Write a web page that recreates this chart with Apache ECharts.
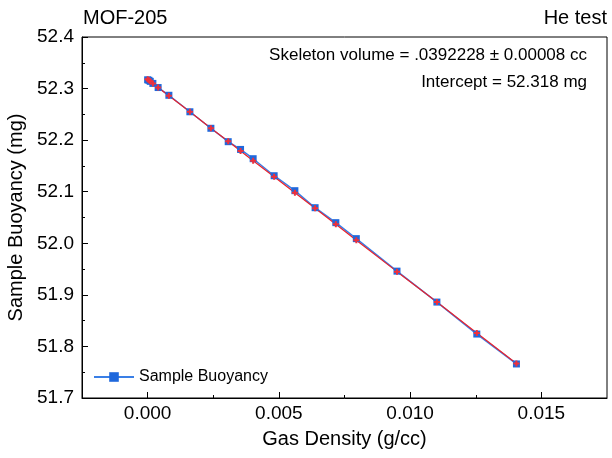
<!DOCTYPE html>
<html>
<head>
<meta charset="utf-8">
<script src="https://cdn.jsdelivr.net/npm/echarts@6/dist/echarts.min.js"></script>
<style>
html,body{margin:0;padding:0;background:#fff;}
#chart{width:612px;height:458px;}
</style>
</head>
<body>
<div id="chart"></div>
<script>
// Gas density (g/cc)
const gasDensity = [0.00000, 0.00005, 0.00010, 0.00020, 0.00040, 0.00081, 0.00161, 0.00241, 0.00307, 0.00354, 0.00402, 0.00482, 0.00561, 0.00638, 0.00717, 0.00795, 0.00950, 0.01102, 0.01254, 0.01405];
// Sample buoyancy (mg)
const sampleBuoyancy = [52.317, 52.316, 52.314, 52.310, 52.302, 52.287, 52.255, 52.223, 52.197, 52.182, 52.164, 52.131, 52.102, 52.069, 52.040, 52.009, 51.946, 51.886, 51.824, 51.766];
// Linear fit values (mg)
const fitBuoyancy = [52.318, 52.316, 52.314, 52.310, 52.302, 52.286, 52.255, 52.223, 52.198, 52.179, 52.160, 52.129, 52.098, 52.068, 52.037, 52.006, 51.945, 51.886, 51.826, 51.767];
const xTickLabels = [0, 0.005, 0.010, 0.015];
const xMinorTicks = [0.0025, 0.0075, 0.0125];
const yTickLabels = [51.7, 51.8, 51.9, 52.0, 52.1, 52.2, 52.3, 52.4];

const font = '"Liberation Sans", Arial, sans-serif';
const chart = echarts.init(document.getElementById('chart'));
const pts = gasDensity.map((x, i) => [x, sampleBuoyancy[i]]);
const fitPts = gasDensity.map((x, i) => [x, fitBuoyancy[i]]);

chart.setOption({
  animation: false,
  backgroundColor: '#fff',
  grid: {left: 82, right: 5, top: 37, bottom: 60, outerBoundsMode: 'none', containLabel: false,
         show: true, borderColor: '#000', borderWidth: 1, backgroundColor: 'transparent'},
  xAxis: [{
    type: 'value', min: -0.0025, max: 0.0175, interval: 0.0025,
    axisLine: {show: true, onZero: false, lineStyle: {color: '#000', width: 1}},
    axisTick: {show: true, inside: true, length: 6, customValues: xTickLabels, lineStyle: {color: '#000'}},
    axisLabel: {show: true, customValues: xTickLabels, formatter: v => v.toFixed(3), color: '#000', fontSize: 19, fontFamily: font, margin: 6},
    splitLine: {show: false},
    name: 'Gas Density (g/cc)', nameLocation: 'middle', nameGap: 31,
    nameTextStyle: {color: '#000', fontSize: 20, fontFamily: font}
  }, {
    type: 'value', min: -0.0025, max: 0.0175, interval: 0.0025, position: 'bottom',
    axisLine: {show: false, onZero: false},
    axisTick: {show: true, inside: true, length: 3, customValues: xMinorTicks, lineStyle: {color: '#000'}},
    axisLabel: {show: false},
    splitLine: {show: false}
  }],
  yAxis: {
    type: 'value', min: 51.7, max: 52.4, interval: 0.1,
    axisLine: {show: true, onZero: false, lineStyle: {color: '#000', width: 1}},
    axisTick: {show: true, inside: true, length: 6, lineStyle: {color: '#000'}},
    minorTick: {show: true, splitNumber: 2, length: 3, lineStyle: {color: '#000'}},
    axisLabel: {formatter: v => v.toFixed(1), color: '#000', fontSize: 19, fontFamily: font, margin: 8},
    splitLine: {show: false},
    name: 'Sample Buoyancy (mg)', nameLocation: 'middle', nameGap: 54,
    nameTextStyle: {color: '#000', fontSize: 20, fontFamily: font}
  },
  legend: {
    left: 93, top: 369, itemWidth: 40, itemHeight: 12, itemGap: 6, padding: 0,
    data: ['Sample Buoyancy'],
    textStyle: {color: '#000', fontSize: 16, fontFamily: font}
  },
  series: [{
    name: 'Sample Buoyancy', type: 'line', xAxisIndex: 0, data: pts,
    symbol: 'rect', symbolSize: 7,
    itemStyle: {color: '#1f68dc'},
    lineStyle: {color: '#3a7fe6', width: 1.5}
  }, {
    name: 'Fit', type: 'line', xAxisIndex: 0, data: fitPts,
    symbol: 'path://M2,0H4V2H6V4H4V6H2V4H0V2H2Z', symbolSize: 6,
    itemStyle: {color: '#f0303a'},
    lineStyle: {color: '#e8222c', width: 1.2},
    z: 3
  }],
  graphic: [
    {type: 'text', left: 83, top: 8, style: {text: 'MOF-205', fill: '#000', font: '20px ' + font}},
    {type: 'text', right: 5, top: 8, style: {text: 'He test', fill: '#000', font: '20px ' + font}},
    {type: 'text', right: 25, top: 47, style: {text: 'Skeleton volume = .0392228 \u00b1 0.00008 cc', fill: '#000', font: '17px ' + font}},
    {type: 'text', right: 25, top: 74, style: {text: 'Intercept = 52.318 mg', fill: '#000', font: '17px ' + font}}
  ]
});
</script>
</body>
</html>
